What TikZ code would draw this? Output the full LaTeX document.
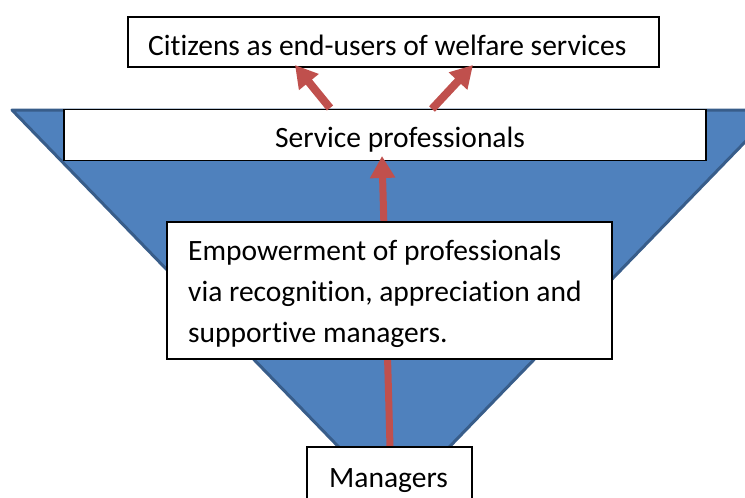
\documentclass[tikz,border=0pt]{standalone}
\usepackage{fontspec}
\setmainfont{Carlito}[Ligatures=NoCommon]
\usetikzlibrary{arrows.meta}
\definecolor{triblue}{HTML}{4F81BD}
\definecolor{triedge}{HTML}{385D8A}
\definecolor{arrred}{HTML}{C0504D}
\tikzset{
  trishape/.style={fill=triblue,draw=triedge,line width=3pt,line join=round},
  whitebox/.style={draw=black,fill=white,line width=1.2pt,inner sep=0pt},
  txt/.style={font=\fontsize{29.5}{35}\selectfont,inner sep=0pt,text=black},
  redarrow/.style={draw=arrred,line width=8pt,-{Triangle[length=22pt,width=24pt]}},
}
\begin{document}
\begin{tikzpicture}[x=1pt,y=-1pt]
\useasboundingbox (0,0) rectangle (745,498);
\clip (0,0) rectangle (745,498);
% funnel
\draw[trishape] (12,110) -- (776,110) -- (394,504) -- cycle;
% boxes
\node[whitebox,minimum width=642pt,minimum height=51pt] (svc) at (385,135) {};
\node[txt,anchor=base] (svct) at (400,147) {Service professionals};
\node[whitebox,minimum width=531pt,minimum height=50pt] (cit) at (393.5,42) {};
\node[txt,anchor=base west] (citt) at (148,55) {Citizens as end-users of welfare services};
% arrows
\coordinate (a1s) at (330,108);
\coordinate (a1e) at (295,65);
\coordinate (a2s) at (432,109);
\coordinate (a2e) at (473,65);
\coordinate (a3s) at (390,447);
\coordinate (a3e) at (382,156);
\draw[redarrow] (a1s) -- (a1e);
\draw[redarrow] (a2s) -- (a2e);
\draw[redarrow,line width=7pt] (a3s) -- (a3e);
% empowerment box
\node[whitebox,minimum width=445pt,minimum height=137pt] (emp) at (389.5,290.5) {};
\node[txt,anchor=base west] (e1) at (188,260) {Empowerment of professionals};
\node[txt,anchor=base west] (e2) at (188,301) {via recognition, appreciation and};
\node[txt,anchor=base west] (e3) at (188,342) {supportive managers.};
% managers
\node[whitebox,minimum width=165pt,minimum height=70pt] (mgr) at (389.5,482) {};
\node[txt,anchor=base] (mgrt) at (388.5,487) {Managers};
\end{tikzpicture}
\end{document}
